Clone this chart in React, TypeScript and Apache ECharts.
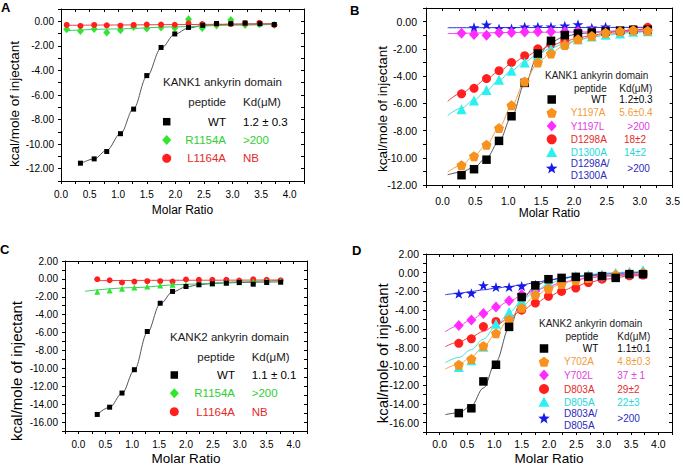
import React, { useEffect, useRef } from 'react';
import * as echarts from 'echarts';

const FONT = '"Liberation Sans", Arial, Helvetica, sans-serif';

// ---------- Panel A: KANK1 ankyrin domain ----------
const A_WT_X = [0.34, 0.58, 0.8, 1.04, 1.27, 1.5, 1.75, 1.99, 2.23, 2.48, 2.72, 2.97, 3.22, 3.48, 3.73];
const A_WT_Y = [-11.55, -11.2, -10.6, -9.15, -7.15, -4.42, -2.13, -1.03, -0.5, -0.33, -0.18, -0.2, -0.14, -0.2, -0.26];
const A_MUT_X = [0.1, 0.34, 0.58, 0.8, 1.04, 1.27, 1.5, 1.75, 1.99, 2.23, 2.47, 2.72, 2.97, 3.22, 3.47, 3.73];
const A_R1154A_Y = [-0.65, -0.8, -0.62, -0.92, -0.73, -0.46, -0.59, -0.5, -0.55, 0.16, -0.54, -0.35, 0.11, -0.3, -0.24, -0.3];
const A_L1164A_Y = [-0.3, -0.38, -0.3, -0.33, -0.36, -0.3, -0.27, -0.27, -0.28, -0.16, -0.22, -0.22, -0.21, -0.17, -0.13, -0.3];
const A_WT_FIT_X = [0.34, 0.58, 0.8, 1.04, 1.27, 1.5, 1.75, 1.99, 2.23, 2.48, 2.72, 2.97, 3.22, 3.48, 3.75];
const A_WT_FIT_Y = [-11.6, -11.2, -10.5, -9.15, -7.1, -4.5, -2.2, -1.05, -0.55, -0.35, -0.28, -0.24, -0.22, -0.21, -0.2];
const A_R1154A_FIT_X = [0.1, 1.0, 2.0, 3.0, 3.75];
const A_R1154A_FIT_Y = [-0.76, -0.62, -0.45, -0.32, -0.26];
const A_L1164A_FIT_X = [0.1, 1.0, 2.0, 3.0, 3.75];
const A_L1164A_FIT_Y = [-0.33, -0.3, -0.27, -0.24, -0.22];

// ---------- Panel B: KANK1 ankyrin domain ----------
const B_X = [0.29, 0.48, 0.67, 0.86, 1.05, 1.25, 1.45, 1.65, 1.86, 2.06, 2.27, 2.48, 2.7, 2.9, 3.12];
const B_WT_Y = [-11.28, -10.84, -10.14, -8.76, -6.95, -4.5, -2.35, -1.41, -0.99, -0.87, -0.8, -0.72, -0.66, -0.6, -0.6];
const B_Y1197A_Y = [-10.55, -9.88, -9.05, -7.82, -6.15, -4.4, -3.0, -2.35, -1.72, -1.3, -1.05, -0.82, -0.7, -0.63, -0.67];
const B_Y1197L_Y = [-0.85, -0.95, -1.0, -0.82, -0.8, -0.76, -0.75, -0.75, -0.74, -0.72, -0.72, -0.7, -0.7, -0.68, -0.68];
const B_D1298A_Y = [-5.3, -4.9, -4.18, -3.6, -3.0, -2.5, -2.0, -1.65, -1.35, -1.2, -1.0, -0.85, -0.72, -0.58, -0.42];
const B_D1300A_Y = [-6.43, -5.8, -5.02, -4.27, -3.6, -3.0, -2.42, -2.0, -1.6, -1.3, -1.1, -0.97, -0.87, -0.75, -0.7];
const B_DD_X = [0.48, 0.67, 0.86, 1.05, 1.25, 1.45, 1.65, 1.86, 2.06, 2.27, 2.48];
const B_DD_Y = [-0.42, -0.22, -0.5, -0.5, -0.37, -0.37, -0.37, -0.3, -0.2, -0.45, -0.37];
const B_FIT_X = [0.08, 0.29, 0.48, 0.67, 0.86, 1.05, 1.25, 1.45, 1.65, 1.86, 2.06, 2.27, 2.48, 2.7, 2.9, 3.15];
const B_WT_FIT_Y = [-11.25, -11.05, -10.7, -10.0, -8.8, -7.0, -4.6, -2.5, -1.5, -1.08, -0.9, -0.8, -0.73, -0.67, -0.62, -0.58];
const B_Y1197A_FIT_Y = [-11.05, -10.55, -9.85, -9.05, -7.8, -6.2, -4.45, -3.0, -2.3, -1.72, -1.35, -1.1, -0.93, -0.82, -0.74, -0.68];
const B_D1298A_FIT_Y = [-5.85, -5.25, -4.75, -4.2, -3.65, -3.1, -2.6, -2.15, -1.75, -1.45, -1.2, -1.0, -0.85, -0.7, -0.6, -0.48];
const B_D1300A_FIT_Y = [-6.9, -6.35, -5.75, -5.05, -4.3, -3.6, -2.95, -2.4, -1.95, -1.6, -1.33, -1.15, -1.0, -0.88, -0.8, -0.7];
const B_Y1197L_FIT_X = [0.08, 1.5, 3.15];
const B_Y1197L_FIT_Y = [-0.88, -0.78, -0.7];
const B_DD_FIT_X = [0.08, 3.15];
const B_DD_FIT_Y = [-0.45, -0.42];

// ---------- Panel C: KANK2 ankyrin domain ----------
const C_X = [0.35, 0.58, 0.81, 1.04, 1.28, 1.52, 1.75, 2.0, 2.24, 2.49, 2.75, 2.99, 3.25, 3.5, 3.76];
const C_WT_Y = [-15.15, -14.34, -12.76, -10.15, -5.88, -2.72, -1.4, -0.85, -0.66, -0.55, -0.48, -0.4, -0.59, -0.4, -0.37];
const C_R1154A_Y = [-1.43, -1.29, -1.1, -0.96, -0.85, -0.74, -0.66, -0.63, -0.55, -0.48, -0.4, -0.37, -0.29, -0.22, -0.18];
const C_L1164A_Y = [-0.04, -0.15, -0.4, -0.3, -0.26, -0.26, -0.3, -0.07, -0.11, -0.11, -0.11, -0.18, -0.04, -0.11, -0.15];
const C_WT_FIT_Y = [-15.15, -14.35, -12.8, -10.2, -6.0, -2.8, -1.45, -0.9, -0.65, -0.52, -0.45, -0.4, -0.37, -0.35, -0.33];
const C_R1154A_FIT_X = [0.12, 1.0, 2.0, 3.0, 3.76];
const C_R1154A_FIT_Y = [-1.38, -0.98, -0.6, -0.32, -0.15];
const C_L1164A_FIT_X = [0.35, 2.0, 3.76];
const C_L1164A_FIT_Y = [-0.2, -0.15, -0.12];

// ---------- Panel D: KANK2 ankyrin domain ----------
const D_X = [0.35, 0.58, 0.8, 1.03, 1.27, 1.5, 1.75, 1.99, 2.23, 2.49, 2.72, 2.97, 3.22, 3.47, 3.72];
const D_WT_Y = [-14.98, -14.47, -11.6, -9.82, -5.78, -2.6, -1.35, -0.69, -0.55, -0.44, -0.42, -0.36, -0.55, -0.15, -0.15];
const D_Y702A_Y = [-9.82, -9.2, -7.82, -6.47, -4.98, -3.75, -2.36, -1.71, -1.2, -0.8, -0.55, -0.36, -0.22, -0.07, 0];
const D_Y702L_Y = [-5.64, -5.05, -4.36, -3.67, -2.98, -2.33, -1.96, -1.6, -1.05, -0.69, -0.55, -0.47, -0.25, -0.15, -0.11];
const D_D803A_Y = [-7.53, -7.05, -5.75, -5.2, -4.8, -4.0, -3.24, -2.51, -2.0, -1.64, -1.05, -0.69, -0.51, -0.33, -0.25];
const D_D805A_Y = [-10.07, -9.35, -7.89, -5.45, -4.18, -2.98, -2.0, -1.09, -0.62, -0.36, -0.25, -0.15, 0, 0.1, 0.29];
const D_DD_X = [0.35, 0.58, 0.8, 1.03, 1.27, 1.5, 1.75];
const D_DD_Y = [-2.25, -2.18, -1.35, -1.53, -1.53, -1.42, -1.27];
const D_FIT_X = [0.1, 0.35, 0.58, 0.8, 1.03, 1.27, 1.5, 1.75, 1.99, 2.23, 2.49, 2.72, 3.0, 3.5, 3.75];
const D_WT_FIT_Y = [-15.15, -14.95, -14.2, -12.3, -9.5, -5.9, -2.9, -1.4, -0.8, -0.55, -0.4, -0.35, -0.3, -0.23, -0.2];
const D_Y702A_FIT_Y = [-10.3, -9.75, -9.0, -7.9, -6.5, -4.95, -3.6, -2.5, -1.7, -1.15, -0.8, -0.55, -0.35, -0.12, -0.05];
const D_Y702L_FIT_Y = [-6.3, -5.65, -5.0, -4.35, -3.7, -3.05, -2.45, -1.9, -1.45, -1.05, -0.75, -0.55, -0.38, -0.18, -0.12];
const D_D803A_FIT_Y = [-7.9, -7.4, -6.85, -6.25, -5.6, -4.85, -4.05, -3.25, -2.55, -1.95, -1.45, -1.05, -0.7, -0.35, -0.25];
const D_D805A_FIT_Y = [-9.6, -9.05, -8.2, -7.1, -5.7, -4.3, -3.0, -1.95, -1.2, -0.7, -0.4, -0.2, -0.05, 0.1, 0.15];
const D_DD_FIT_Y = [-2.35, -2.2, -2.0, -1.82, -1.65, -1.47, -1.3, -1.05, -0.8, -0.6, -0.4, -0.28, -0.15, 0.0, 0.05];

// ---------- axis ranges ----------
const X_RANGES = [
  { min: 0, max: 4.25, labelMax: 4.0 },
  { min: -0.25, max: 3.5, labelMax: 3.5 },
  { min: -0.25, max: 4.25, labelMax: 4.0 },
  { min: -0.25, max: 4.25, labelMax: 4.0 },
];
const Y_RANGES = [
  { min: -13, max: 1 },
  { min: -12, max: 1 },
  { min: -17, max: 2 },
  { min: -17, max: 2 },
];
const X_NAME = 'Molar Ratio';
const Y_NAME = 'kcal/mole of injectant';

// ---------- colours ----------
const BLACK = '#000000';
const GREEN = '#2EE62E';
const RED = '#FF1F1F';
const ORANGE = '#F7921E';
const MAGENTA = '#FF2BFF';
const CYAN = '#2BF0F0';
const BLUE = '#1A1AE6';
const T_GREEN = '#2ECF2E';
const T_RED = '#E52B2B';
const T_ORANGE = '#F29B3A';
const T_MAGENTA = '#E23CE2';
const T_CYAN = '#22D8D8';
const T_BLUE = '#2B2BC0';

const STAR = 'path://M50 0 L61.23 34.55 L97.55 34.55 L68.16 55.9 L79.39 90.45 L50 69.1 L20.61 90.45 L31.84 55.9 L2.45 34.55 L38.77 34.55 Z';
const PENTAGON = 'path://M50 0 L97.55 34.55 L79.39 90.45 L20.61 90.45 L2.45 34.55 Z';

const GRIDS = [
  { left: 61, top: 9, width: 243, height: 172 },
  { left: 426, top: 8, width: 249, height: 177 },
  { left: 65, top: 261, width: 242, height: 172 },
  { left: 426, top: 254, width: 246, height: 178 },
];
const AXIS_STYLE = [
  { fs: 10, xMargin: 8, yMargin: 7, nameFs: 12, nameGap: 23 },
  { fs: 10.5, xMargin: 10, yMargin: 9, nameFs: 12, nameGap: 21 },
  { fs: 10, xMargin: 8, yMargin: 7, nameFs: 13.5, nameGap: 20 },
  { fs: 10.5, xMargin: 6, yMargin: 7, nameFs: 13.5, nameGap: 19 },
];

const pairs = (xs: number[], ys: number[]) => xs.map((x, i) => [x, ys[i]]);

const fmtY = (v: number) => {
  const r = Math.round(v);
  return Math.abs(v - r) < 1e-6 && r % 2 === 0 ? r.toFixed(2) : '';
};
const fmtX = (maxLab: number) => (v: number) => {
  const h = v * 2;
  const r = Math.round(h);
  if (Math.abs(h - r) > 1e-6 || v < -1e-6 || v > maxLab + 1e-6) return '';
  return (r / 2).toFixed(1);
};

function scatter(g: number, name: string, xs: number[], ys: number[], symbol: string, size: any, color: string) {
  return {
    type: 'scatter', name, xAxisIndex: 2 * g, yAxisIndex: 2 * g, data: pairs(xs, ys),
    symbol, symbolSize: size, itemStyle: { color, opacity: 1 }, z: 3, silent: true,
  };
}
function fit(g: number, xs: number[], ys: number[], color: string) {
  return {
    type: 'line', xAxisIndex: 2 * g, yAxisIndex: 2 * g, data: pairs(xs, ys),
    showSymbol: false, symbol: 'none', smooth: 0.35, smoothMonotone: 'x',
    lineStyle: { color, width: 1 }, z: 2, silent: true,
  };
}

function legendMarker(kind: string, cx: number, cy: number, s: number, color: string): any {
  const h = s / 2;
  const style = { fill: color };
  if (kind === 'square') return { type: 'rect', shape: { x: cx - h, y: cy - h, width: s, height: s }, style };
  if (kind === 'circle') return { type: 'circle', shape: { cx, cy, r: h }, style };
  if (kind === 'diamond') return { type: 'polygon', shape: { points: [[cx, cy - h], [cx + h * 0.9, cy], [cx, cy + h], [cx - h * 0.9, cy]] }, style };
  if (kind === 'triangle') return { type: 'polygon', shape: { points: [[cx, cy - h], [cx + h, cy + h * 0.8], [cx - h, cy + h * 0.8]] }, style };
  const pts: number[][] = [];
  const n = kind === 'star' ? 10 : 5;
  for (let i = 0; i < n; i++) {
    const a = -Math.PI / 2 + (i * 2 * Math.PI) / n;
    const r = kind === 'star' && i % 2 === 1 ? h * 0.42 : h;
    pts.push([cx + r * Math.cos(a), cy + h * 0.1 + r * Math.sin(a)]);
  }
  return { type: 'polygon', shape: { points: pts }, style };
}

function txt(text: string, x: number, y: number, fs: number, fill: string, align = 'left', extra: any = {}) {
  return {
    type: 'text', x, y, silent: true,
    style: { text, fill, fontSize: fs, fontFamily: FONT, align, verticalAlign: 'middle', ...extra },
  };
}

type Row = { kind: string; size: number; color: string; tc: string; names: [string, number][]; nameX: number; align: string; kd: string; kdX: number; y: number };
type Legend = { title: string; titleX: number; titleY: number; fs: number; pepX: number; kdHdrX: number; hdrY: number; markerX: number; rows: Row[] };

const LEGENDS: Legend[] = [
  {
    title: 'KANK1 ankyrin domain', titleX: 163, titleY: 82, fs: 11.5, pepX: 226, kdHdrX: 243, hdrY: 102, markerX: 166.7,
    rows: [
      { kind: 'square', size: 7.5, color: BLACK, tc: BLACK, names: [['WT', 121.7]], nameX: 226, align: 'right', kd: '1.2 ± 0.3', kdX: 243, y: 121.7 },
      { kind: 'diamond', size: 10, color: GREEN, tc: T_GREEN, names: [['R1154A', 140]], nameX: 226, align: 'right', kd: '>200', kdX: 243, y: 140 },
      { kind: 'circle', size: 9, color: RED, tc: T_RED, names: [['L1164A', 158.3]], nameX: 226, align: 'right', kd: 'NB', kdX: 243, y: 158.3 },
    ],
  },
  {
    title: 'KANK1 ankyrin domain', titleX: 545, titleY: 75.5, fs: 10, pepX: 606.7, kdHdrX: 619.3, hdrY: 88.5, markerX: 551.7,
    rows: [
      { kind: 'square', size: 8.5, color: BLACK, tc: BLACK, names: [['WT', 99.5]], nameX: 606.7, align: 'right', kd: '1.2±0.3', kdX: 619.3, y: 99.5 },
      { kind: 'pentagon', size: 11, color: ORANGE, tc: T_ORANGE, names: [['Y1197A', 112.7]], nameX: 570.7, align: 'left', kd: '5.6±0.4', kdX: 619.3, y: 112.7 },
      { kind: 'diamond', size: 11, color: MAGENTA, tc: T_MAGENTA, names: [['Y1197L', 126]], nameX: 570.7, align: 'left', kd: '>200', kdX: 627.3, y: 126 },
      { kind: 'circle', size: 10, color: RED, tc: T_RED, names: [['D1298A', 139.3]], nameX: 570.7, align: 'left', kd: '18±2', kdX: 624, y: 139.3 },
      { kind: 'triangle', size: 11, color: CYAN, tc: T_CYAN, names: [['D1300A', 152.5]], nameX: 570.7, align: 'left', kd: '14±2', kdX: 624, y: 152.5 },
      { kind: 'star', size: 12, color: BLUE, tc: T_BLUE, names: [['D1298A/', 163.5], ['D1300A', 175.5]], nameX: 570.7, align: 'left', kd: '>200', kdX: 627.3, y: 168 },
    ],
  },
  {
    title: 'KANK2 ankyrin domain', titleX: 170, titleY: 336.7, fs: 11.5, pepX: 235, kdHdrX: 251.7, hdrY: 356.7, markerX: 174.3,
    rows: [
      { kind: 'square', size: 7.5, color: BLACK, tc: BLACK, names: [['WT', 375]], nameX: 235, align: 'right', kd: '1.1 ± 0.1', kdX: 251.7, y: 375 },
      { kind: 'diamond', size: 10, color: GREEN, tc: T_GREEN, names: [['R1154A', 393.3]], nameX: 235, align: 'right', kd: '>200', kdX: 251.7, y: 393.3 },
      { kind: 'circle', size: 9, color: RED, tc: T_RED, names: [['L1164A', 411.7]], nameX: 235, align: 'right', kd: 'NB', kdX: 251.7, y: 411.7 },
    ],
  },
  {
    title: 'KANK2 ankyrin domain', titleX: 539, titleY: 323, fs: 10, pepX: 598.3, kdHdrX: 617.3, hdrY: 336.2, markerX: 544,
    rows: [
      { kind: 'square', size: 8.5, color: BLACK, tc: BLACK, names: [['WT', 348.5]], nameX: 598.3, align: 'right', kd: '1.1±0.1', kdX: 617.3, y: 348.5 },
      { kind: 'pentagon', size: 11, color: ORANGE, tc: T_ORANGE, names: [['Y702A', 361.7]], nameX: 564, align: 'left', kd: '4.8±0.3', kdX: 617.3, y: 361.7 },
      { kind: 'diamond', size: 11, color: MAGENTA, tc: T_MAGENTA, names: [['Y702L', 375]], nameX: 564, align: 'left', kd: '37 ± 1', kdX: 617.3, y: 375 },
      { kind: 'circle', size: 10, color: RED, tc: T_RED, names: [['D803A', 389]], nameX: 564, align: 'left', kd: '29±2', kdX: 617.3, y: 389 },
      { kind: 'triangle', size: 11, color: CYAN, tc: T_CYAN, names: [['D805A', 402.3]], nameX: 564, align: 'left', kd: '22±3', kdX: 617.3, y: 402.3 },
      { kind: 'star', size: 12, color: BLUE, tc: T_BLUE, names: [['D803A/', 413], ['D805A', 425]], nameX: 564, align: 'left', kd: '>200', kdX: 617.3, y: 418 },
    ],
  },
];

const PANEL_LETTERS = [
  { t: 'A', x: 1, y: 7 },
  { t: 'B', x: 350, y: 10 },
  { t: 'C', x: 0, y: 249 },
  { t: 'D', x: 352, y: 250 },
];
const Y_NAMES = [
  { x: 14, y: 104, fs: 13.5 },
  { x: 382.7, y: 109, fs: 13.5 },
  { x: 16.7, y: 371, fs: 15 },
  { x: 382.7, y: 353.3, fs: 15 },
];

function buildOption() {
  const xAxis: any[] = [];
  const yAxis: any[] = [];
  GRIDS.forEach((_, g) => {
    const xr = X_RANGES[g];
    const yr = Y_RANGES[g];
    const st = AXIS_STYLE[g];
    const line = { onZero: false, lineStyle: { color: '#000', width: 1 } };
    xAxis.push({
      gridIndex: g, type: 'value', position: 'bottom', min: xr.min, max: xr.max, interval: 0.25,
      axisLine: line, axisTick: { length: 3, lineStyle: { color: '#000' } },
      axisLabel: { fontSize: st.fs, color: '#000', fontFamily: FONT, margin: st.xMargin, formatter: fmtX(xr.labelMax) },
      splitLine: { show: false },
      name: X_NAME, nameLocation: 'middle', nameGap: st.nameGap,
      nameTextStyle: { fontSize: st.nameFs, color: '#000', fontFamily: FONT },
    });
    xAxis.push({
      gridIndex: g, type: 'value', position: 'top', min: xr.min, max: xr.max, interval: 0.25,
      axisLine: line, axisTick: { inside: true, length: 3, lineStyle: { color: '#000' } },
      axisLabel: { show: false }, splitLine: { show: false },
    });
    yAxis.push({
      gridIndex: g, type: 'value', position: 'left', min: yr.min, max: yr.max, interval: 1,
      axisLine: line, axisTick: { length: 3, lineStyle: { color: '#000' } },
      axisLabel: { fontSize: st.fs, color: '#000', fontFamily: FONT, margin: st.yMargin, formatter: fmtY },
      splitLine: { show: false },
    });
    yAxis.push({
      gridIndex: g, type: 'value', position: 'right', min: yr.min, max: yr.max, interval: 1,
      axisLine: line, axisTick: { inside: true, length: 3, lineStyle: { color: '#000' } },
      axisLabel: { show: false }, splitLine: { show: false },
    });
  });

  const series: any[] = [
    // A
    fit(0, A_WT_FIT_X, A_WT_FIT_Y, '#555555'),
    fit(0, A_R1154A_FIT_X, A_R1154A_FIT_Y, '#33CC66'),
    fit(0, A_L1164A_FIT_X, A_L1164A_FIT_Y, '#F04040'),
    scatter(0, 'R1154A', A_MUT_X, A_R1154A_Y, 'diamond', [7, 8], GREEN),
    scatter(0, 'L1164A', A_MUT_X, A_L1164A_Y, 'circle', 6, RED),
    scatter(0, 'WT', A_WT_X, A_WT_Y, 'rect', 5, BLACK),
    // B
    fit(1, B_FIT_X, B_WT_FIT_Y, '#555555'),
    fit(1, B_FIT_X, B_Y1197A_FIT_Y, '#F5A04A'),
    fit(1, B_FIT_X, B_D1298A_FIT_Y, '#F04040'),
    fit(1, B_FIT_X, B_D1300A_FIT_Y, '#40E0E0'),
    fit(1, B_Y1197L_FIT_X, B_Y1197L_FIT_Y, '#F040F0'),
    fit(1, B_DD_FIT_X, B_DD_FIT_Y, '#3030E0'),
    scatter(1, 'D1298A/D1300A', B_DD_X, B_DD_Y, STAR, [11, 10], BLUE),
    scatter(1, 'Y1197L', B_X, B_Y1197L_Y, 'diamond', [10, 11], MAGENTA),
    scatter(1, 'D1298A', B_X, B_D1298A_Y, 'circle', 9, RED),
    scatter(1, 'D1300A', B_X, B_D1300A_Y, 'triangle', 10, CYAN),
    scatter(1, 'WT', B_X, B_WT_Y, 'rect', 8.5, BLACK),
    scatter(1, 'Y1197A', B_X, B_Y1197A_Y, PENTAGON, [10, 10], ORANGE),
    // C
    fit(2, C_X, C_WT_FIT_Y, '#555555'),
    fit(2, C_R1154A_FIT_X, C_R1154A_FIT_Y, '#33CC66'),
    fit(2, C_L1164A_FIT_X, C_L1164A_FIT_Y, '#F04040'),
    scatter(2, 'L1164A', C_X, C_L1164A_Y, 'circle', 6, RED),
    scatter(2, 'R1154A', C_X, C_R1154A_Y, 'triangle', 6, GREEN),
    scatter(2, 'WT', C_X, C_WT_Y, 'rect', 5, BLACK),
    // D
    fit(3, D_FIT_X, D_WT_FIT_Y, '#555555'),
    fit(3, D_FIT_X, D_Y702A_FIT_Y, '#F5A04A'),
    fit(3, D_FIT_X, D_Y702L_FIT_Y, '#F040F0'),
    fit(3, D_FIT_X, D_D803A_FIT_Y, '#F04040'),
    fit(3, D_FIT_X, D_D805A_FIT_Y, '#40E0E0'),
    fit(3, D_FIT_X, D_DD_FIT_Y, '#3030E0'),
    scatter(3, 'D803A/D805A', D_DD_X, D_DD_Y, STAR, [11, 10], BLUE),
    scatter(3, 'D803A', D_X, D_D803A_Y, 'circle', 9, RED),
    scatter(3, 'Y702L', D_X, D_Y702L_Y, 'diamond', [10, 11], MAGENTA),
    scatter(3, 'D805A', D_X, D_D805A_Y, 'triangle', 10, CYAN),
    scatter(3, 'Y702A', D_X, D_Y702A_Y, PENTAGON, [10, 10], ORANGE),
    scatter(3, 'WT', D_X, D_WT_Y, 'rect', 8.5, BLACK),
  ];

  const graphic: any[] = [];
  PANEL_LETTERS.forEach((p) => graphic.push(txt(p.t, p.x, p.y, 13, '#000', 'left', { fontWeight: 'bold' })));
  Y_NAMES.forEach((p) => graphic.push({
    type: 'text', x: p.x, y: p.y, rotation: Math.PI / 2, silent: true,
    style: { text: Y_NAME, fill: '#000', fontSize: p.fs, fontFamily: FONT, align: 'center', verticalAlign: 'middle' },
  }));
  LEGENDS.forEach((L) => {
    graphic.push(txt(L.title, L.titleX, L.titleY, L.fs, '#1a1a1a'));
    graphic.push(txt('peptide', L.pepX, L.hdrY, L.fs, '#1a1a1a', 'right'));
    graphic.push(txt('Kd(μM)', L.kdHdrX, L.hdrY, L.fs, '#1a1a1a'));
    L.rows.forEach((r) => {
      graphic.push(legendMarker(r.kind, L.markerX, r.y, r.size, r.color));
      r.names.forEach(([t, y]) => graphic.push(txt(t, r.nameX, y, L.fs, r.tc, r.align)));
      graphic.push(txt(r.kd, r.kdX, r.y, L.fs, r.tc));
    });
  });

  return {
    animation: false,
    backgroundColor: '#ffffff',
    textStyle: { fontFamily: FONT },
    grid: GRIDS.map((g) => ({ ...g, containLabel: false })),
    xAxis,
    yAxis,
    series,
    graphic,
  };
}

export default function App() {
  const ref = useRef<HTMLDivElement>(null);
  useEffect(() => {
    if (!ref.current) return;
    const chart = echarts.init(ref.current, undefined, { renderer: 'svg' });
    chart.setOption(buildOption() as any);
    return () => chart.dispose();
  }, []);
  return (
    <div
      ref={ref}
      style={{ position: 'fixed', left: 0, top: 0, width: 683, height: 466, background: '#fff' }}
    />
  );
}
